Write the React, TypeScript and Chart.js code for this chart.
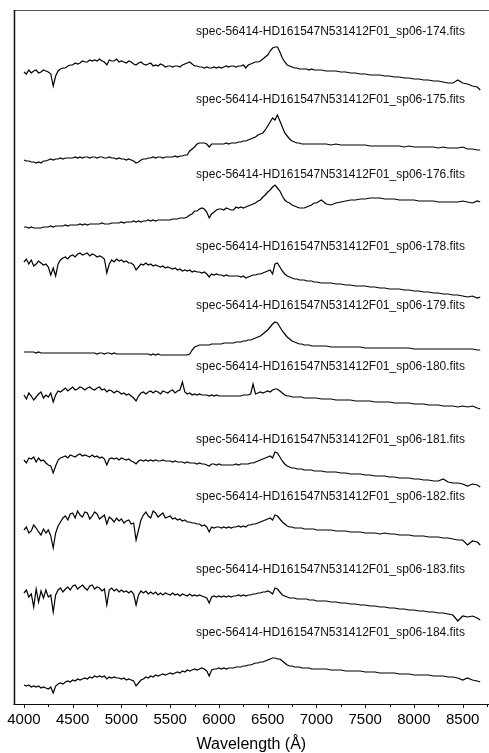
import React, { useEffect, useRef } from "react";
import { Chart, registerables } from "chart.js";

Chart.register(...registerables);

// Wavelength grid (Å)
const WAVELENGTHS = [
  4000, 4025, 4050, 4075, 4100, 4125, 4150, 4175, 4200, 4225,
  4250, 4275, 4300, 4325, 4350, 4375, 4400, 4425, 4450, 4475,
  4500, 4525, 4550, 4575, 4600, 4625, 4650, 4675, 4700, 4725,
  4750, 4775, 4800, 4825, 4850, 4875, 4900, 4925, 4950, 4975,
  5000, 5025, 5050, 5075, 5100, 5125, 5150, 5175, 5200, 5225,
  5250, 5275, 5300, 5325, 5350, 5375, 5400, 5425, 5450, 5475,
  5500, 5525, 5550, 5575, 5600, 5625, 5650, 5675, 5700, 5725,
  5750, 5775, 5800, 5825, 5850, 5875, 5900, 5925, 5950, 5975,
  6000, 6025, 6050, 6075, 6100, 6125, 6150, 6175, 6200, 6225,
  6250, 6275, 6300, 6325, 6350, 6375, 6400, 6425, 6450, 6475,
  6500, 6525, 6550, 6575, 6600, 6625, 6650, 6675, 6700, 6725,
  6750, 6775, 6800, 6825, 6850, 6875, 6900, 6925, 6950, 6975,
  7000,
  7050, 7100, 7150, 7200, 7250, 7300, 7350, 7400, 7450, 7500,
  7550, 7600, 7650, 7700, 7750, 7800, 7850, 7900, 7950, 8000,
  8050, 8100, 8150, 8200, 8250, 8300, 8350, 8400, 8450, 8500,
  8550, 8600, 8650, 8680,
];

// Relative flux of each spectrum (arbitrary units)
const FLUX_174 = [
  0, -2, 2, -1, 1, 2, -1, 0, 2, 1, 0, -2, -14, -4, 1, 3, 4, 4, 6, 7,
  7, 9, 8, 9, 11, 10, 10, 12, 11, 12, 11, 13, 11, 10, 7, 12, 11, 11, 13, 10,
  11, 10, 9, 11, 10, 8, 7, 9, 10, 8, 7, 8, 9, 6, 7, 6, 8, 7, 5, 6,
  6, 5, 6, 6, 5, 7, 8, 9, 10, 8, 6, 6, 5, 5, 4, 5, 4, 4, 5, 4,
  5, 4, 5, 6, 5, 6, 6, 5, 6, 6, 7, 4, 7, 8, 9, 10, 10, 11, 13, 15,
  17, 21, 24, 25, 25, 20, 14, 10, 7, 6, 5, 4, 4, 3, 3, 3, 3, 2, 3, 2, 2,
  2, 1, 1, 1, 0, 0, -1, -1, -2, -2, -3, -3, -3, -4, -4, -5, -5, -6, -6, -7,
  -7, -8, -8, -9, -9, -10, -11, -11, -8, -11, -12, -14, -15, -18,
];
const FLUX_175 = [
  0, -1, -1, -2, -2, -3, -2, -3, -1, -1, 0, 1, 0, 1, 1, 2, 1, 2, 2, 2,
  2, 3, 2, 3, 2, 3, 3, 2, 3, 3, 2, 3, 3, 2, 2, 3, 2, 2, 1, 2,
  1, 1, 0, 1, 0, -1, -3, -2, 0, 1, 1, 2, 2, 3, 2, 3, 3, 2, 3, 3,
  3, 3, 4, 3, 4, 4, 5, 5, 9, 11, 13, 16, 17, 17, 17, 16, 13, 16, 16, 16,
  16, 16, 16, 17, 16, 17, 17, 17, 18, 18, 19, 19, 20, 21, 22, 23, 25, 26, 27, 30,
  34, 38, 42, 40, 45, 39, 33, 27, 24, 21, 19, 18, 17, 17, 16, 16, 16, 16, 16, 16, 16,
  16, 16, 15, 16, 15, 15, 15, 15, 15, 15, 14, 14, 14, 14, 14, 14, 14, 13, 14, 13,
  13, 13, 13, 13, 12, 13, 12, 12, 12, 13, 11, 11, 10, 10,
];
const FLUX_176 = [
  0, 0, -1, 0, -1, -1, -1, -1, 0, 0, 0, 1, 0, 1, 1, 1, 1, 2, 1, 2,
  2, 2, 2, 3, 2, 3, 2, 3, 3, 3, 3, 3, 4, 3, 3, 3, 4, 4, 4, 4,
  5, 4, 5, 5, 5, 6, 5, 6, 5, 6, 6, 7, 6, 7, 6, 7, 7, 7, 7, 7,
  7, 8, 8, 8, 9, 9, 9, 10, 12, 13, 16, 16, 18, 19, 18, 15, 9, 13, 15, 17,
  18, 18, 17, 19, 18, 17, 17, 20, 19, 20, 19, 20, 21, 22, 23, 24, 26, 27, 30, 32,
  35, 37, 40, 42, 39, 36, 31, 27, 25, 24, 22, 21, 20, 19, 19, 19, 20, 21, 22, 24, 24,
  27, 23, 22, 24, 25, 26, 27, 27, 28, 28, 29, 29, 29, 28, 28, 28, 27, 27, 27, 27,
  26, 26, 26, 26, 25, 25, 25, 25, 25, 26, 25, 24, 26, 25,
];
const FLUX_178 = [
  0, 3, -2, 2, -4, -2, 1, -1, -3, -2, -5, -13, -6, -14, -2, 2, 4, 5, 3, 6,
  7, 5, 8, 9, 7, 8, 9, 6, 8, 7, 5, 6, 5, 3, -11, -2, 2, 0, 3, 1,
  2, 0, 1, -1, -1, -3, -8, -5, -2, -3, -1, -3, -2, -4, -3, -4, -5, -4, -6, -5,
  -6, -7, -6, -8, -7, -9, -8, -9, -8, -10, -9, -10, -10, -11, -10, -12, -15, -12, -13, -12,
  -13, -13, -14, -13, -14, -14, -14, -14, -14, -15, -14, -16, -15, -14, -13, -13, -12, -12, -11, -10,
  -9, -8, -12, -2, -1, -5, -9, -12, -14, -15, -16, -17, -17, -18, -18, -18, -19, -19, -19, -20, -20,
  -21, -21, -21, -22, -22, -23, -23, -24, -24, -24, -25, -25, -26, -26, -27, -27, -27, -28, -28, -29,
  -29, -30, -30, -31, -31, -32, -32, -33, -33, -34, -35, -34, -36, -35,
];
const FLUX_179 = [
  0, 0, 0, 0, 0, -1, 0, -1, -1, -1, -1, -1, -1, -1, -1, -1, -1, -1, -1, -1,
  -1, -1, -1, -1, -1, -1, -1, -1, -1, -1, -2, -1, -1, -2, -1, -1, -2, -1, -2, -2,
  -2, -2, -2, -2, -2, -2, -2, -2, -2, -2, -2, -2, -3, -2, -3, -2, -3, -3, -3, -3,
  -3, -3, -3, -3, -3, -3, -3, -3, -2, 2, 5, 6, 7, 7, 7, 7, 7, 8, 8, 8,
  8, 8, 9, 9, 9, 9, 9, 10, 10, 10, 11, 11, 12, 12, 13, 14, 15, 16, 18, 20,
  22, 25, 28, 30, 29, 25, 21, 18, 15, 13, 11, 10, 9, 8, 8, 7, 7, 7, 6, 6, 6,
  6, 6, 5, 5, 5, 5, 5, 5, 5, 4, 4, 4, 4, 4, 4, 4, 4, 4, 4, 3,
  3, 3, 3, 3, 3, 3, 3, 3, 3, 3, 3, 3, 2, 2,
];
const FLUX_180 = [
  0, -4, 2, -1, -5, -2, 1, 3, -3, 0, -2, 2, -7, 0, 4, 3, 5, 7, 4, 6,
  8, 5, 6, 8, 7, 5, 7, 8, 6, 5, 7, 8, 5, 6, 3, 5, 4, 2, 4, 3,
  1, 2, 0, 1, -1, -3, -6, -1, 2, 3, 1, 3, 4, 2, 4, 3, 1, 4, 3, 2,
  4, 5, 2, 4, 5, 13, 3, 1, 2, 0, 1, 0, 1, 0, 0, 0, -1, 0, -1, 0,
  -1, -1, -1, -1, -1, -1, -1, -1, -1, -1, 0, 0, 0, 1, 11, 1, 2, 3, 2, 3,
  4, 3, 5, 6, 6, 4, 2, 0, -1, -1, -2, -2, -2, -2, -2, -3, -3, -3, -3, -3, -3,
  -4, -4, -4, -5, -5, -5, -5, -6, -6, -6, -6, -7, -7, -7, -7, -8, -8, -8, -8, -9,
  -9, -9, -10, -10, -10, -11, -11, -11, -12, -11, -12, -11, -13, -14,
];
const FLUX_181 = [
  0, -3, 2, 1, 3, -2, 2, -1, 0, -3, -5, -6, -13, -6, 0, 2, 3, 4, 2, 5,
  4, 3, 5, 6, 4, 5, 4, 3, 5, 3, 4, 2, 3, 1, -5, 1, 2, 1, 2, 0,
  2, 1, 0, 1, -1, -2, -4, -1, 0, -1, 0, -1, 0, -1, 0, -1, -1, 0, -1, -1,
  -1, -2, -1, -2, -2, -2, -3, -2, -3, -3, -3, -4, -3, -4, -4, -5, -6, -4, -4, -5,
  -4, -5, -5, -5, -5, -5, -5, -4, -5, -4, -4, -4, -4, -3, -3, -2, -1, 0, 1, 2,
  3, 4, 2, 8, 7, 3, -1, -4, -6, -7, -8, -8, -9, -9, -9, -10, -10, -10, -10, -11, -11,
  -11, -12, -12, -12, -13, -13, -14, -14, -14, -15, -15, -16, -16, -16, -17, -17, -18, -18, -18, -19,
  -19, -20, -20, -21, -21, -19, -22, -23, -23, -24, -26, -24, -25, -27,
];
const FLUX_182 = [
  0, 3, -3, -1, 5, 2, -2, -5, 1, -3, 0, -6, -18, -3, 4, 8, 12, 14, 10, 16,
  17, 12, 19, 15, 13, 18, 17, 11, 14, 18, 16, 11, 13, 15, 6, 13, 11, 8, 12, 9,
  11, 7, 9, 10, 6, 7, -10, 0, 10, 15, 18, 14, 12, 19, 17, 13, 15, 17, 12, 13,
  14, 11, 12, 10, 11, 9, 10, 8, 8, 7, 7, 6, 6, 4, 5, 3, -2, 3, 2, 3,
  3, 2, 3, 2, 3, 2, 3, 3, 4, 3, 4, 3, 5, 5, 6, 6, 7, 8, 9, 10,
  11, 12, 10, 15, 14, 11, 8, 6, 4, 3, 3, 2, 2, 2, 2, 1, 1, 1, 1, 1, 0,
  0, 0, 0, -1, -1, -1, -2, -2, -2, -3, -3, -3, -4, -3, -4, -4, -5, -5, -5, -6,
  -6, -6, -7, -7, -7, -8, -8, -9, -10, -10, -15, -11, -12, -15,
];
const FLUX_183 = [
  0, 3, -4, -1, -14, 4, -9, 2, -5, 3, -4, -2, -19, -2, 3, 5, 1, 4, 6, 3,
  7, 8, 4, 6, 8, 5, 3, 7, 8, 4, 6, 5, 2, 4, -12, 3, 5, 2, 4, 1,
  3, 1, 2, 0, 2, -1, -12, -2, 2, 0, 2, -1, 1, -1, 1, -2, 0, -2, 0, -1,
  -2, 0, -2, -1, -3, -1, -2, -3, -1, -3, -2, -3, -2, -3, -4, -5, -10, -4, -3, -4,
  -3, -4, -3, -4, -3, -4, -3, -3, -2, -3, -2, -3, -2, -2, -1, -1, 0, 0, 1, 1,
  2, 1, -1, 5, 4, 1, -2, -3, -4, -5, -5, -5, -6, -6, -6, -6, -6, -7, -7, -7, -8,
  -8, -8, -9, -9, -10, -10, -11, -11, -12, -12, -13, -13, -14, -14, -15, -15, -16, -16, -17, -17,
  -18, -18, -19, -19, -20, -20, -21, -22, -28, -23, -24, -23, -25, -27,
];
const FLUX_184 = [
  0, -1, 0, -2, -1, -2, -1, -3, -2, -3, -4, -2, -8, -1, 1, 2, 1, 3, 4, 3,
  5, 4, 6, 5, 6, 7, 6, 8, 7, 9, 8, 9, 8, 9, 6, 8, 7, 8, 7, 7,
  6, 7, 5, 6, 5, 4, -1, 2, 5, 6, 8, 7, 9, 8, 10, 9, 10, 11, 10, 11,
  12, 11, 12, 13, 12, 14, 13, 15, 14, 15, 16, 15, 16, 17, 16, 14, 9, 15, 16, 16,
  17, 16, 17, 16, 17, 17, 17, 18, 18, 18, 19, 19, 20, 20, 21, 22, 22, 23, 23, 24,
  25, 26, 27, 27, 26, 26, 24, 22, 20, 19, 19, 18, 18, 18, 17, 17, 17, 17, 16, 16, 16,
  16, 16, 15, 15, 15, 14, 14, 14, 14, 13, 13, 13, 12, 12, 12, 12, 11, 11, 11, 10,
  10, 10, 10, 9, 9, 9, 8, 8, 7, 5, 7, 5, 4, 3,
];

const SPECTRA = [FLUX_174, FLUX_175, FLUX_176, FLUX_178, FLUX_179, FLUX_180, FLUX_181, FLUX_182, FLUX_183, FLUX_184];
// vertical stacking offsets
const OFFSETS = [632, 544, 477, 442, 352, 309, 244, 174, 111, 19];

const LABELS = [
  "spec-56414-HD161547N531412F01_sp06-174.fits",
  "spec-56414-HD161547N531412F01_sp06-175.fits",
  "spec-56414-HD161547N531412F01_sp06-176.fits",
  "spec-56414-HD161547N531412F01_sp06-178.fits",
  "spec-56414-HD161547N531412F01_sp06-179.fits",
  "spec-56414-HD161547N531412F01_sp06-180.fits",
  "spec-56414-HD161547N531412F01_sp06-181.fits",
  "spec-56414-HD161547N531412F01_sp06-182.fits",
  "spec-56414-HD161547N531412F01_sp06-183.fits",
  "spec-56414-HD161547N531412F01_sp06-184.fits",
];
const LABEL_Y = [672, 604, 529, 457, 398, 337, 264, 207, 134, 71];
const LABEL_X_END = 8523;

const X_TICKS = [4000, 4500, 5000, 5500, 6000, 6500, 7000, 7500, 8000, 8500];
const X_MINOR = [4250, 4750, 5250, 5750, 6250, 6750, 7250, 7750, 8250, 8750];
const X_MIN = 3895;
const X_MAX = 8770;

const framePlugin = {
  id: "frame",
  afterDatasetsDraw(chart: any) {
    const { ctx, chartArea: a, scales } = chart;
    const x = scales.x;
    const y = scales.y;
    ctx.save();
    ctx.font = '12px "Liberation Sans", Arial, sans-serif';
    ctx.fillStyle = "#111";
    ctx.textAlign = "right";
    ctx.textBaseline = "middle";
    LABELS.forEach((t, i) => {
      ctx.fillText(t, x.getPixelForValue(LABEL_X_END), y.getPixelForValue(LABEL_Y[i]));
    });
    ctx.lineWidth = 1;
    ctx.strokeStyle = "#555";
    ctx.beginPath();
    ctx.moveTo(a.left, a.top + 0.5);
    ctx.lineTo(a.right, a.top + 0.5);
    ctx.stroke();
    ctx.strokeStyle = "#111";
    ctx.lineWidth = 1.5;
    ctx.beginPath();
    ctx.moveTo(a.left + 0.75, a.top);
    ctx.lineTo(a.left + 0.75, a.bottom + 1);
    ctx.stroke();
    ctx.lineWidth = 1;
    ctx.beginPath();
    ctx.moveTo(a.left, a.bottom + 0.5);
    ctx.lineTo(a.right, a.bottom + 0.5);
    ctx.stroke();
    ctx.beginPath();
    X_TICKS.forEach((v) => {
      const px = Math.round(x.getPixelForValue(v)) + 0.5;
      ctx.moveTo(px, a.bottom);
      ctx.lineTo(px, a.bottom + 4);
    });
    X_MINOR.forEach((v) => {
      const px = Math.round(x.getPixelForValue(v)) + 0.5;
      ctx.moveTo(px, a.bottom);
      ctx.lineTo(px, a.bottom + 3);
    });
    ctx.stroke();
    ctx.restore();
  },
};

export default function App() {
  const ref = useRef<HTMLCanvasElement | null>(null);
  useEffect(() => {
    if (!ref.current) return;
    const datasets = SPECTRA.map((flux, k) => ({
      data: WAVELENGTHS.map((w, i) => ({ x: w, y: OFFSETS[k] + flux[i] })),
      borderColor: "#000",
      borderWidth: 1.2,
      pointRadius: 0,
      tension: 0,
      fill: false,
    }));
    const chart = new Chart(ref.current, {
      type: "line",
      data: { datasets },
      options: {
        responsive: false,
        animation: false,
        devicePixelRatio: 1,
        layout: { padding: { left: 13, top: 10, right: 0, bottom: 0 } },
        plugins: { legend: { display: false }, tooltip: { enabled: false } },
        scales: {
          x: {
            type: "linear",
            min: X_MIN,
            max: X_MAX,
            grid: { display: false, drawTicks: false, tickLength: 0 },
            border: { display: false },
            afterBuildTicks: (s: any) => {
              s.ticks = X_TICKS.map((v) => ({ value: v }));
            },
            ticks: {
              font: { family: '"Liberation Sans", Arial, sans-serif', size: 15 },
              color: "#000",
              padding: 7,
              maxRotation: 0,
              autoSkip: false,
              callback: (v: any) => String(v),
            },
            title: {
              display: true,
              text: "Wavelength (Å)",
              font: { family: '"Liberation Sans", Arial, sans-serif', size: 16 },
              color: "#000",
              padding: { top: -0.6, bottom: -1.6 },
            },
          },
          y: { display: false, min: 0, max: 694 },
        },
      },
      plugins: [framePlugin],
    } as any);
    return () => chart.destroy();
  }, []);
  return (
    <div style={{ position: "absolute", left: 0, top: 0, width: 489, height: 753 }}>
      <canvas ref={ref} width={489} height={753} style={{ display: "block" }} />
    </div>
  );
}
